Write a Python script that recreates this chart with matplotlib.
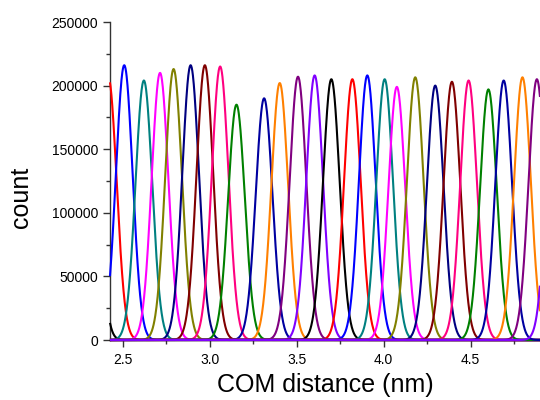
import numpy as np
import matplotlib
matplotlib.use("Agg")
import matplotlib.pyplot as plt
from matplotlib.ticker import MultipleLocator

# Umbrella-sampling window histograms: peak position (nm), peak count, width (nm)
centers = [2.313, 2.415, 2.507, 2.620, 2.713, 2.791, 2.889, 2.971, 3.059, 3.153,
           3.312, 3.402, 3.507, 3.603, 3.699, 3.820, 3.906, 4.006, 4.076, 4.182,
           4.297, 4.393, 4.489, 4.603, 4.691, 4.799, 4.882, 4.985]
heights = [205000, 207000, 216000, 204000, 210000, 213000, 216000, 216000, 215000, 185000,
           190000, 202000, 207000, 208000, 205000, 205000, 208000, 205000, 199000, 206500,
           200000, 203000, 204000, 197000, 204000, 206500, 205000, 205000]
widths = [0.048] * 28
colors = ["#000000", "#FF0000", "#0000FF", "#008080", "#FF00FF", "#808000", "#000080",
          "#800000", "#FF0080", "#008000", "#0000A0", "#FF8000", "#800080", "#8000FF"] * 2

x_label = "COM distance (nm)"
y_label = "count"

plt.rcParams['font.family'] = ['Liberation Sans', 'DejaVu Sans']

fig = plt.figure(figsize=(5.4, 4.0), dpi=100)
ax = fig.add_axes([0.2037, 0.15, 0.7963, 0.795])

xmin, xmax = 2.425, 4.9
x = np.linspace(xmin, xmax, 1500)
for c, h, w, col in zip(centers, heights, widths, colors):
    y = h * np.exp(-(x - c) ** 2 / (2 * w ** 2))
    ax.plot(x, y, color=col, lw=1.5, solid_capstyle='butt', clip_on=False, zorder=3)

ax.set_xlim(xmin, xmax)
ax.set_ylim(0, 250000)
ax.xaxis.set_major_locator(MultipleLocator(0.5))
ax.xaxis.set_minor_locator(MultipleLocator(0.25))
ax.yaxis.set_major_locator(MultipleLocator(50000))
ax.yaxis.set_minor_locator(MultipleLocator(25000))
ax.xaxis.set_major_formatter(matplotlib.ticker.FormatStrFormatter('%.1f'))

for s in ['top', 'right']:
    ax.spines[s].set_visible(False)
for s in ['left', 'bottom']:
    ax.spines[s].set_linewidth(1.0)
    ax.spines[s].set_color('#333333')

ax.tick_params(which='major', direction='out', length=5, width=1, labelsize=10, colors='#333333', labelcolor='black')
ax.tick_params(which='minor', direction='out', length=3, width=1, colors='#333333')
ax.tick_params(axis='x', pad=4)

ax.set_xlabel(x_label, fontsize=18, labelpad=5)
ax.set_ylabel(y_label, fontsize=18)
ax.yaxis.set_label_coords(-0.18, 0.45)

fig.savefig("out.png", dpi=100)
